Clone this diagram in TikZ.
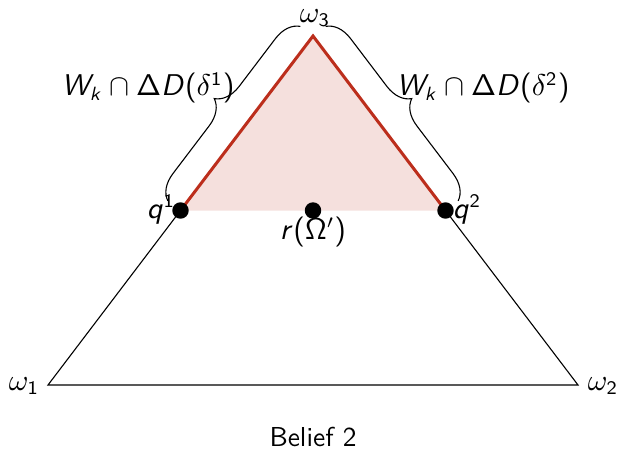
\documentclass[tikz,border=0pt]{standalone}
\usetikzlibrary{decorations.pathreplacing}
\definecolor{mred}{RGB}{188,46,28}
\DeclareSymbolFont{ssup}{OT1}{cmss}{m}{n}
\DeclareSymbolFont{sssl}{OT1}{cmss}{m}{sl}
\DeclareMathSymbol{W}{\mathalpha}{sssl}{`W}
\DeclareMathSymbol{k}{\mathalpha}{sssl}{`k}
\DeclareMathSymbol{D}{\mathalpha}{sssl}{`D}
\DeclareMathSymbol{q}{\mathalpha}{sssl}{`q}
\DeclareMathSymbol{r}{\mathalpha}{sssl}{`r}
\DeclareMathSymbol{1}{\mathalpha}{ssup}{`1}
\DeclareMathSymbol{2}{\mathalpha}{ssup}{`2}
\DeclareMathSymbol{3}{\mathalpha}{ssup}{`3}
\DeclareMathSymbol{(}{\mathopen}{ssup}{"28}
\DeclareMathSymbol{)}{\mathclose}{ssup}{"29}
\DeclareMathSymbol{\SDelta}{\mathalpha}{ssup}{"01}
\DeclareMathSymbol{\SOmega}{\mathalpha}{ssup}{"0A}
\begin{document}
\begin{tikzpicture}[x=0.365pt,y=-0.365pt,
  dot/.style={circle,fill=black,inner sep=0pt,minimum size=6pt},
  lbl/.style={inner sep=1pt,font=\fontsize{10.7}{12}\selectfont\sffamily},
  ttl/.style={inner sep=1pt,font=\sffamily},
  edge/.style={draw=black,line width=0.4pt},
  redge/.style={draw=mred,line width=1.1pt},
  bracestyle/.style={draw=black,line width=0.4pt,decorate,decoration={brace,amplitude=9.1pt,raise=5.8pt}}]
\useasboundingbox (0,0) rectangle (619,453);
\coordinate (w1) at (48,385);
\coordinate (w2) at (578,385);
\coordinate (w3) at (313,36);
\coordinate (q1) at (180.5,210.5);
\coordinate (q2) at (445.5,210.5);
\coordinate (r) at (313,210.5);
\fill[mred!15] (q1) -- (w3) -- (q2) -- cycle;
\draw[edge] (q1) -- (w1) -- (w2) -- (q2);
\draw[redge] (q1) -- (w3) -- (q2);
\path[bracestyle] (q1) -- (w3);
\path[bracestyle] (w3) -- (q2);
\node[dot] (d1) at (q1) {};
\node[dot] (d2) at (q2) {};
\node[dot] (dr) at (r) {};
\node[lbl] (l1) at (24,386) {$\omega_1$};
\node[lbl] (l2) at (603,386) {$\omega_2$};
\node[lbl] (l3) at (315,18) {$\omega_3$};
\node[lbl] (lq1) at (161,210) {$q^1$};
\node[lbl] (lq2) at (467,210) {$q^2$};
\node[lbl] (lr) at (313,232) {$r(\SOmega')$};
\node[lbl] (bl) at (148,88) {$W_k\cap\SDelta D(\delta^1)$};
\node[lbl] (br) at (483,88) {$W_k\cap\SDelta D(\delta^2)$};
\node[ttl] (title) at (313,437) {Belief 2};
\end{tikzpicture}
\end{document}
